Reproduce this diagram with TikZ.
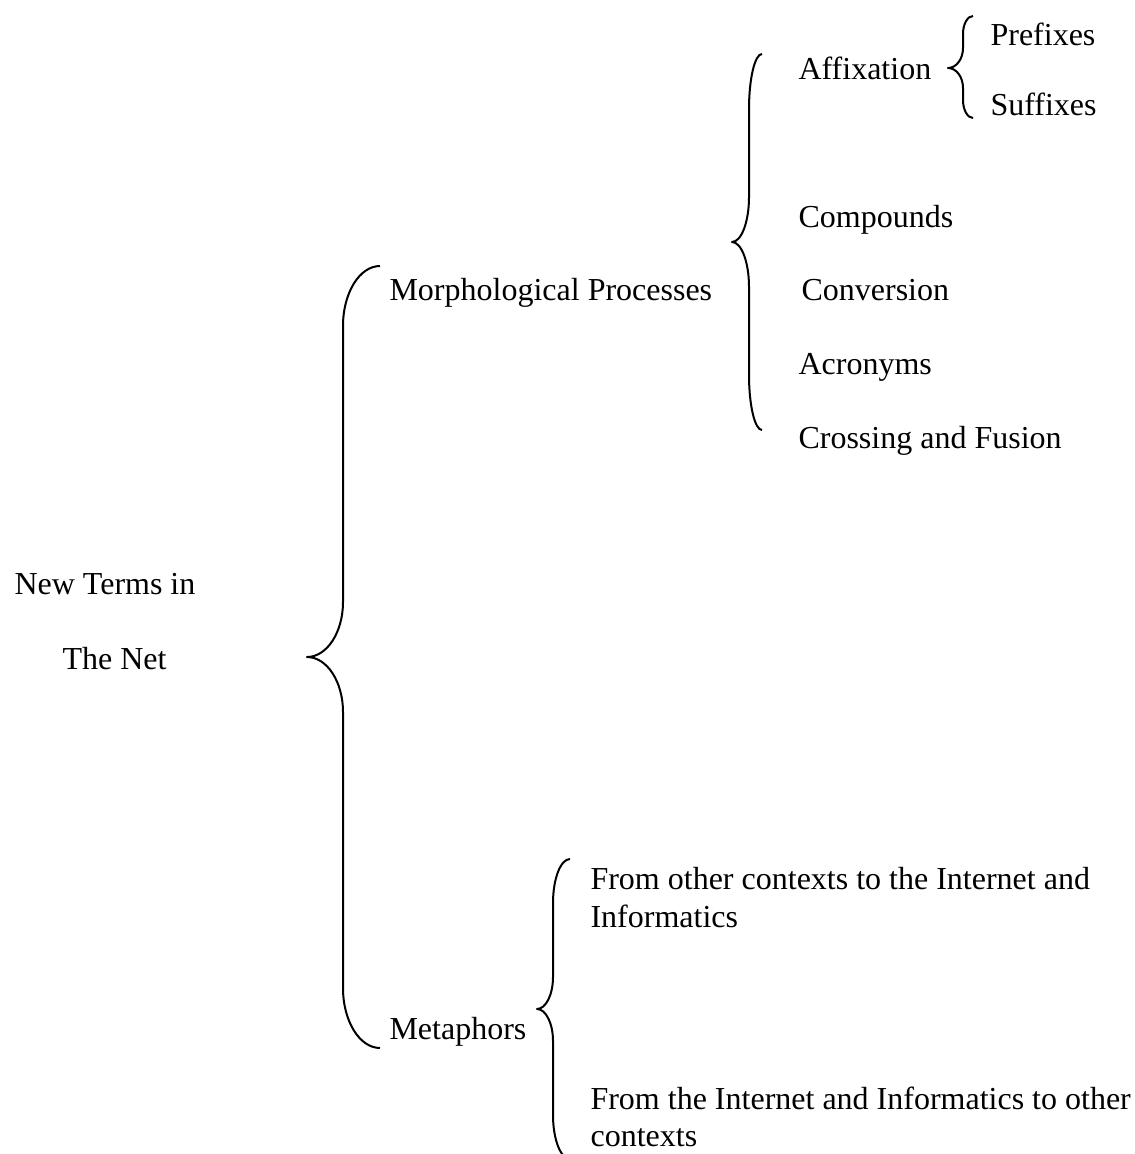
\documentclass[tikz,border=0pt]{standalone}
\usepackage{fontspec}
\setmainfont{Liberation Serif}
\usetikzlibrary{positioning}

\tikzset{
  term/.style={anchor=base west, inner sep=0pt, font=\fontsize{12}{14}\selectfont},
  bracestroke/.style={draw=black, line width=0.75pt, line join=round}
}

% curly brace opening to the right
% #1 end x, #2 spine x, #3 tip x, #4 top y, #5 tip y, #6 bottom y, #7 hook height, #8 tip height
\newcommand{\wordbrace}[8]{%
  \draw[bracestroke] (#1,#4) .. controls ({#1-0.552*(#1-#2)},#4) and (#2,{#4+0.448*#7}) .. (#2,{#4+#7})
    -- (#2,{#5-#8}) .. controls (#2,{#5-0.448*#8}) and ({#3+0.552*(#2-#3)},#5) .. (#3,#5)
    .. controls ({#3+0.552*(#2-#3)},#5) and (#2,{#5+0.448*#8}) .. (#2,{#5+#8})
    -- (#2,{#6-#7}) .. controls (#2,{#6-0.448*#7}) and ({#1-0.552*(#1-#2)},#6) .. (#1,#6);
}

\begin{document}
\begin{tikzpicture}[x=0.375pt, y=-0.375pt]
  \useasboundingbox (0,0) rectangle (1134,1154);

  % root
  \node[term] (root1) at (14,594) {New Terms in};
  \node[term] (root2) at (62,669) {The Net};
  \wordbrace{380}{343}{307}{266}{657}{1048}{60}{55}

  % first level
  \node[term] (morph) at (389,301) {Morphological Processes};
  \node[term] (meta) at (389,1039) {Metaphors};

  % morphological processes
  \wordbrace{762}{749}{732}{54}{242}{430}{55}{45}
  \node[term] (affix) at (798,80) {Affixation};
  \node[term] (comp) at (798,228) {Compounds};
  \node[term] (conv) at (801,301) {Conversion};
  \node[term] (acro) at (798,374) {Acronyms};
  \node[term] (cross) at (798,448) {Crossing and Fusion};

  \wordbrace{973}{963}{948}{16}{68}{118}{18}{20}
  \node[term] (pre) at (990,46) {Prefixes};
  \node[term] (suf) at (990,116) {Suffixes};

  % metaphors
  \wordbrace{570}{553}{537}{859}{1009}{1159}{44}{32}
  \node[term] (toNet) at (590,889) {From other contexts to the Internet and};
  \node[term] (toNetb) at (590,927) {Informatics};
  \node[term] (fromNet) at (590,1109) {From the Internet and Informatics to other};
  \node[term] (fromNetb) at (590,1146) {contexts};
\end{tikzpicture}
\end{document}
